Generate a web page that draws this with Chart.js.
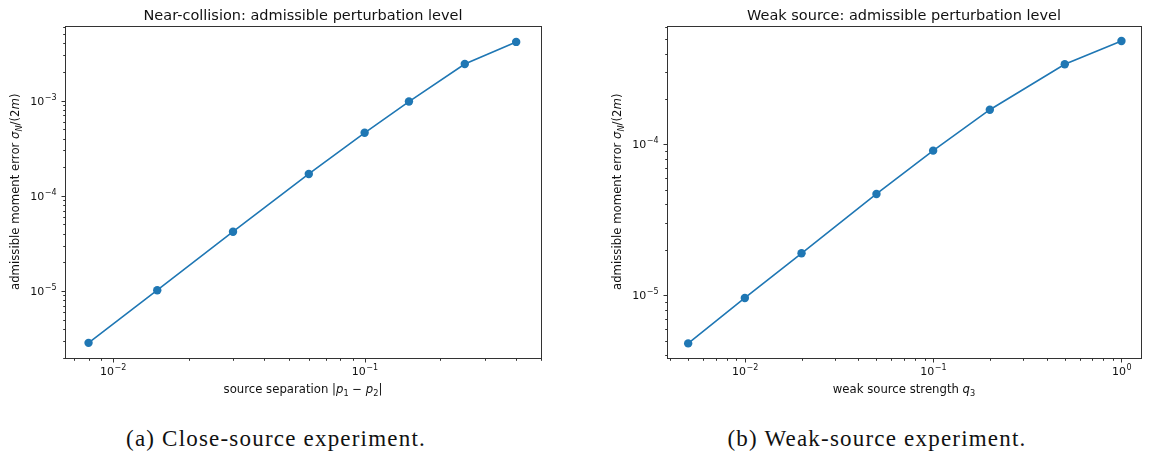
<!DOCTYPE html>
<html>
<head>
<meta charset="utf-8">
<script src="https://cdn.jsdelivr.net/npm/chart.js@4"></script>
<style>
  body { margin: 0; background: #fff; width: 1150px; height: 457px; position: relative; overflow: hidden; }
  canvas { position: absolute; top: 0; }
  .cap { position: absolute; font-family: "Liberation Serif", serif; font-size: 23px; letter-spacing: 1.2px; color: #111; white-space: nowrap; transform: translate(-50%, -50%); }
</style>
</head>
<body>
<canvas id="izq" width="575" height="410" style="left:0"></canvas>
<canvas id="der" width="575" height="410" style="left:575px"></canvas>
<div class="cap" style="left:276px; top:439px">(a) Close-source experiment.</div>
<div class="cap" style="left:877px; top:439px">(b) Weak-source experiment.</div>
<script>
// datos
const separacion = [0.008, 0.015, 0.03, 0.06, 0.1, 0.15, 0.25, 0.4];
const errorCerca = [2.85e-6, 1.02e-5, 4.2e-5, 1.7e-4, 4.6e-4, 9.8e-4, 2.43e-3, 4.15e-3];
const fuerza = [0.005, 0.01, 0.02, 0.05, 0.1, 0.2, 0.5, 1];
const errorDebil = [4.8e-6, 9.6e-6, 1.9e-5, 4.7e-5, 9.1e-5, 1.7e-4, 3.4e-4, 4.85e-4];

// ticks principales y sus etiquetas (base, exponente)
const ticksXIzq = [0.01, 0.1];
const etiquetasXIzq = [['10', '−2'], ['10', '−1']];
const ticksYIzq = [1e-5, 1e-4, 1e-3];
const etiquetasYIzq = [['10', '−5'], ['10', '−4'], ['10', '−3']];
const ticksXDer = [0.01, 0.1, 1];
const etiquetasXDer = [['10', '−2'], ['10', '−1'], ['10', '0']];
const ticksYDer = [1e-5, 1e-4];
const etiquetasYDer = [['10', '−5'], ['10', '−4']];

// texto de ejes: [texto, estilo] i = cursiva, s = subindice
const tituloXIzq = [['source separation |'], ['p', 'i'], ['1', 's'], [' − '], ['p', 'i'], ['2', 's'], ['|']];
const tituloXDer = [['weak source strength '], ['q', 'i'], ['3', 's']];
const tituloY = [['admissible moment error '], ['σ', 'i'], ['N', 'is'], ['/(2'], ['m', 'i'], [')']];

const azul = '#1f77b4';
const fuente = '"DejaVu Sans", sans-serif';

function fuenteDe(estilo) {
    estilo = estilo || '';
    const tam = estilo.includes('s') ? 8.2 : 11.7;
    return (estilo.includes('i') ? 'italic ' : '') + tam + 'px ' + fuente;
}

function textoRico(ctx, partes, x, y, rotar) {
    ctx.save();
    ctx.translate(x, y);
    if (rotar) ctx.rotate(-Math.PI / 2);
    ctx.fillStyle = '#111';
    ctx.textBaseline = 'alphabetic';
    let ancho = 0;
    partes.forEach(p => { ctx.font = fuenteDe(p[1]); ancho += ctx.measureText(p[0]).width; });
    let cx = -ancho / 2;
    partes.forEach(p => {
        ctx.font = fuenteDe(p[1]);
        const dy = (p[1] || '').includes('s') ? 2.8 : 0;
        ctx.fillText(p[0], cx, 4 + dy);
        cx += ctx.measureText(p[0]).width;
    });
    ctx.restore();
}

function potencia(ctx, par, x, yBase, alinear) {
    ctx.font = '11px ' + fuente;
    const w1 = ctx.measureText(par[0]).width;
    ctx.font = '8px ' + fuente;
    const w2 = ctx.measureText(par[1]).width;
    const inicio = alinear === 'right' ? x - w1 - w2 : x - (w1 + w2) / 2;
    ctx.font = '11px ' + fuente;
    ctx.fillText(par[0], inicio, yBase);
    ctx.font = '8px ' + fuente;
    ctx.fillText(par[1], inicio + w1 + 0.5, yBase - 5);
}

function ticksLog(min, max) {
    const lista = [];
    for (let e = Math.floor(Math.log10(min)); e <= Math.ceil(Math.log10(max)); e++) {
        for (let k = 1; k <= 9; k++) {
            const v = k * Math.pow(10, e);
            if (v >= min && v <= max) lista.push({ value: v, major: k === 1 });
        }
    }
    return lista;
}

function buscar(lista, v) {
    return lista.findIndex(t => Math.abs(t - v) / t < 1e-6);
}

const marco = {
    id: 'marco',
    afterDraw(chart, args, opts) {
        const ctx = chart.ctx;
        const a = chart.chartArea;
        const sx = chart.scales.x, sy = chart.scales.y;
        const izq = Math.round(a.left) + 0.5, abajo = Math.round(a.bottom) + 0.5;
        ctx.save();
        ctx.strokeStyle = '#333';
        ctx.lineWidth = 1;
        ctx.strokeRect(izq, Math.round(a.top) + 0.5,
            Math.round(a.right - a.left), Math.round(a.bottom - a.top));
        ctx.beginPath();
        sx.ticks.forEach(t => {
            const px = Math.round(sx.getPixelForValue(t.value)) + 0.5;
            ctx.moveTo(px, abajo);
            ctx.lineTo(px, abajo + (t.major ? 4 : 2.3));
        });
        sy.ticks.forEach(t => {
            const py = Math.round(sy.getPixelForValue(t.value)) + 0.5;
            ctx.moveTo(izq, py);
            ctx.lineTo(izq - (t.major ? 4 : 2.3), py);
        });
        ctx.stroke();

        ctx.fillStyle = '#111';
        ctx.textBaseline = 'alphabetic';
        opts.ticks[0].forEach((v, i) => {
            potencia(ctx, opts.ticks[1][i], sx.getPixelForValue(v), a.bottom + 17, 'center');
        });
        opts.ticks[2].forEach((v, i) => {
            potencia(ctx, opts.ticks[3][i], a.left - 9, sy.getPixelForValue(v) + 4, 'right');
        });
        ctx.restore();

        textoRico(ctx, opts.tituloX, (a.left + a.right) / 2, 389, false);
        textoRico(ctx, tituloY, opts.yX, (a.top + a.bottom) / 2, true);
    }
};

function crearGrafico(id, xs, ys, rango, ticks, titulo, extra) {
    const puntos = xs.map((x, i) => ({ x: x, y: ys[i] }));
    new Chart(document.getElementById(id), {
        type: 'scatter',
        data: {
            datasets: [{
                data: puntos,
                showLine: true,
                borderColor: azul,
                backgroundColor: azul,
                borderWidth: 1.6,
                pointRadius: 4.2,
                pointBorderWidth: 0
            }]
        },
        options: {
            responsive: false,
            animation: false,
            layout: { padding: { left: 0, right: extra.derecha, top: 0, bottom: 0 } },
            plugins: {
                legend: { display: false },
                tooltip: { enabled: false },
                title: {
                    display: true,
                    text: titulo,
                    fullSize: false,
                    color: '#111',
                    font: { family: fuente, size: 14.5, weight: 'normal', lineHeight: 1.2 },
                    padding: { top: 7.3, bottom: 1.3 }
                },
                marco: { tituloX: extra.tituloX, yX: extra.yX, ticks: ticks }
            },
            scales: {
                x: {
                    type: 'logarithmic',
                    min: rango[0], max: rango[1],
                    grid: { display: false, drawTicks: false },
                    border: { display: false },
                    afterBuildTicks: s => { s.ticks = ticksLog(rango[0], rango[1]); },
                    afterFit: s => { s.height = 410 - extra.abajo; },
                    ticks: { display: false, autoSkip: false }
                },
                y: {
                    type: 'logarithmic',
                    min: rango[2], max: rango[3],
                    grid: { display: false, drawTicks: false },
                    border: { display: false },
                    afterBuildTicks: s => { s.ticks = ticksLog(rango[2], rango[3]); },
                    afterFit: s => { s.width = extra.izquierda; },
                    ticks: { display: false, autoSkip: false }
                }
            }
        },
        plugins: [marco]
    });
}

crearGrafico('izq', separacion, errorCerca, [6.45e-3, 0.502, 2.0e-6, 6.1e-3],
    [ticksXIzq, etiquetasXIzq, ticksYIzq, etiquetasYIzq],
    'Near-collision: admissible perturbation level',
    { izquierda: 65, derecha: 34, abajo: 357.5, tituloX: tituloXIzq, yX: 15 });

crearGrafico('der', fuerza, errorDebil, [3.86e-3, 1.27, 3.87e-6, 6.1e-4],
    [ticksXDer, etiquetasXDer, ticksYDer, etiquetasYDer],
    'Weak source: admissible perturbation level',
    { izquierda: 92, derecha: 9, abajo: 357.5, tituloX: tituloXDer, yX: 42 });
</script>
</body>
</html>
